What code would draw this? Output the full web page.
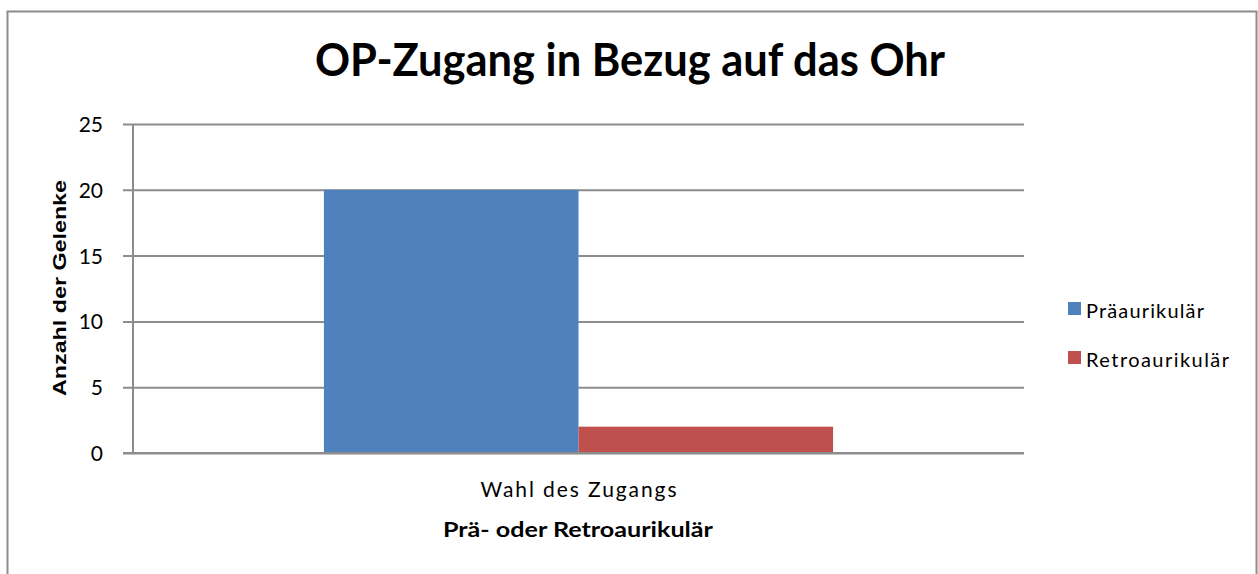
<!DOCTYPE html>
<html>
<head>
<meta charset="utf-8">
<script src="https://cdn.jsdelivr.net/npm/d3@7"></script>
<style>
  body { margin: 0; background: #fff; }
  text { font-family: Lato, "Open Sans", sans-serif; fill: #000; }
</style>
</head>
<body>
<div id="chart"></div>
<script>
// data
const categories = ["Wahl des Zugangs"];
const seriesNames = ["Präaurikulär", "Retroaurikulär"];
const seriesValues = [[20], [2]];
const seriesColors = ["#4F81BD", "#C0504D"];
const yTicks = [0, 5, 10, 15, 20, 25];

const width = 1258;
const height = 574;
const margin = { top: 124, right: 234, bottom: 121, left: 133 };

const svg = d3
  .select("#chart")
  .append("svg")
  .attr("width", width)
  .attr("height", height);

// outer frame
svg
  .append("rect")
  .attr("x", 7.5)
  .attr("y", 11.5)
  .attr("width", 1249)
  .attr("height", 600)
  .attr("fill", "none")
  .attr("stroke", "#8c8c8c")
  .attr("stroke-width", 2);

const x0 = d3
  .scaleBand()
  .domain(categories)
  .range([margin.left, width - margin.right])
  .paddingInner(0)
  .paddingOuter(0.375);

const x1 = d3
  .scaleBand()
  .domain(seriesNames)
  .range([0, x0.bandwidth()]);

const y = d3
  .scaleLinear()
  .domain([0, 25])
  .range([height - margin.bottom, margin.top]);

// gridlines + ticks
const yAxis = svg
  .append("g")
  .attr("transform", `translate(${margin.left},0)`)
  .call(
    d3
      .axisLeft(y)
      .tickValues(yTicks)
      .tickSize(-(width - margin.right - margin.left))
      .tickSizeOuter(0)
  );
yAxis.select(".domain").remove();
yAxis
  .selectAll(".tick line")
  .attr("x1", -10)
  .attr("stroke", "#8c8c8c")
  .attr("stroke-width", 2);
yAxis
  .selectAll(".tick text")
  .attr("x", -30)
  .attr("dy", "0.36em")
  .style("font-size", "21px")
  .style("font-family", "Lato, sans-serif");

// vertical axis line
svg
  .append("line")
  .attr("x1", margin.left)
  .attr("x2", margin.left)
  .attr("y1", y(25))
  .attr("y2", y(0))
  .attr("stroke", "#8c8c8c")
  .attr("stroke-width", 2);

// bars
const groups = svg
  .selectAll("g.cat")
  .data(categories)
  .enter()
  .append("g")
  .attr("class", "cat")
  .attr("transform", (d) => `translate(${x0(d)},0)`);

groups
  .selectAll("rect")
  .data((d, i) => seriesNames.map((s, j) => ({ s: s, v: seriesValues[j][i], c: seriesColors[j] })))
  .enter()
  .append("rect")
  .attr("x", (d) => x1(d.s))
  .attr("y", (d) => y(d.v))
  .attr("width", x1.bandwidth())
  .attr("height", (d) => y(0) - y(d.v))
  .attr("fill", (d) => d.c);

// baseline redrawn on top of bars
svg
  .append("line")
  .attr("x1", margin.left - 10)
  .attr("x2", width - margin.right)
  .attr("y1", y(0))
  .attr("y2", y(0))
  .attr("stroke", "#8c8c8c")
  .attr("stroke-width", 2);

// x category labels
svg
  .selectAll("text.xlab")
  .data(categories)
  .enter()
  .append("text")
  .attr("class", "xlab")
  .attr("x", (d) => x0(d) + x0.bandwidth() / 2)
  .attr("y", 497)
  .attr("text-anchor", "middle")
  .attr("textLength", 196)
  .attr("lengthAdjust", "spacing")
  .style("font-size", "21px")
  .text((d) => d);

// title
svg
  .append("text")
  .attr("x", 630)
  .attr("y", 76)
  .attr("text-anchor", "middle")
  .attr("textLength", 630)
  .attr("lengthAdjust", "spacingAndGlyphs")
  .style("font-size", "45px")
  .style("font-weight", "bold")
  .text("OP-Zugang in Bezug auf das Ohr");

// axis titles
svg
  .append("text")
  .attr("x", 578)
  .attr("y", 537)
  .attr("text-anchor", "middle")
  .attr("textLength", 270)
  .attr("lengthAdjust", "spacingAndGlyphs")
  .style("font-size", "20px")
  .style("font-weight", "bold")
  .text("Prä- oder Retroaurikulär");

svg
  .append("text")
  .attr("transform", "translate(66,288) rotate(-90)")
  .attr("text-anchor", "middle")
  .attr("textLength", 216)
  .attr("lengthAdjust", "spacingAndGlyphs")
  .style("font-family", "'Liberation Sans', Arial, sans-serif")
  .style("font-size", "19px")
  .style("font-weight", "bold")
  .text("Anzahl der Gelenke");

// legend
const legendWidths = [118, 143];
const legend = svg
  .selectAll("g.legend")
  .data(seriesNames)
  .enter()
  .append("g")
  .attr("class", "legend")
  .attr("transform", (d, i) => `translate(1068,${302 + i * 49})`);

legend
  .append("rect")
  .attr("width", 13)
  .attr("height", 13)
  .attr("fill", (d, i) => seriesColors[i]);

legend
  .append("text")
  .attr("x", 18)
  .attr("y", 16)
  .attr("textLength", (d, i) => legendWidths[i])
  .attr("lengthAdjust", "spacing")
  .style("font-size", "20px")
  .text((d) => d);
</script>
</body>
</html>
